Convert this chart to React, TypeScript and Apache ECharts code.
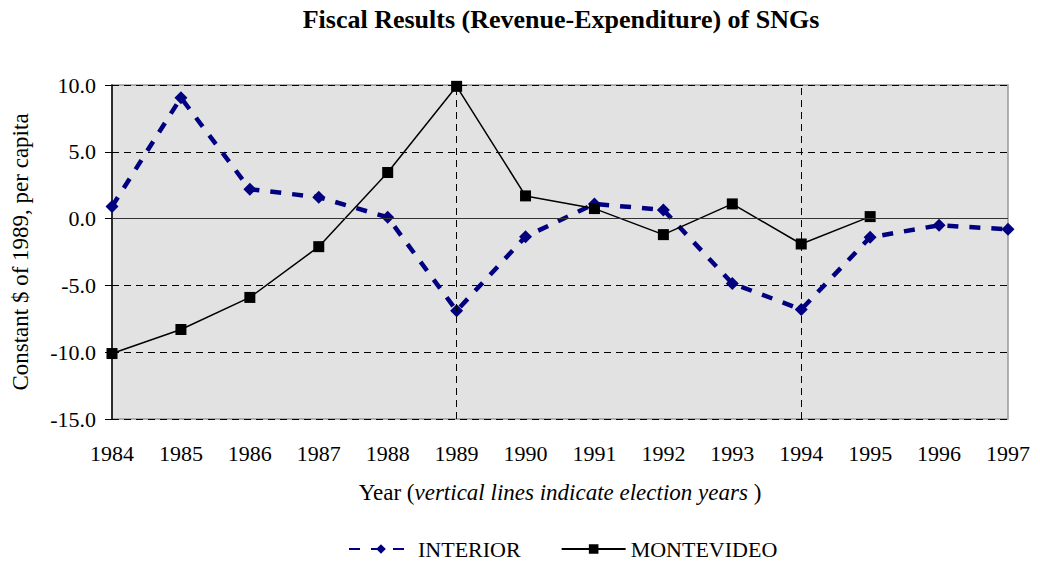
import React, { useEffect, useRef } from "react";
import * as echarts from "echarts";

const years = ["1984","1985","1986","1987","1988","1989","1990","1991","1992","1993","1994","1995","1996","1997"];
const interior = [0.9, 9.05, 2.2, 1.6, 0.1, -6.9, -1.35, 1.1, 0.65, -4.85, -6.8, -1.4, -0.5, -0.8];
const montevideo = [-10.1, -8.3, -5.9, -2.1, 3.45, 9.9, 1.7, 0.75, -1.2, 1.1, -1.9, 0.15, null, null];
const electionYears = ["1989", "1994"];

const FONT = "Liberation Serif";

export default function App() {
  const ref = useRef<HTMLDivElement>(null);
  useEffect(() => {
    if (!ref.current) return;
    const chart = echarts.init(ref.current, undefined, { renderer: "svg" });
    chart.setOption({
      animation: false,
      title: {
        text: "Fiscal Results (Revenue-Expenditure) of SNGs",
        left: 556,
        textAlign: "center",
        top: 1,
        textStyle: { fontFamily: FONT, fontSize: 26, fontWeight: "bold", color: "#000" },
      },
      legend: {
        bottom: 3,
        left: 343,
        itemWidth: 64,
        itemHeight: 12,
        itemGap: 40,
        textStyle: { fontFamily: FONT, fontSize: 22, color: "#000" },
        data: ["INTERIOR", "MONTEVIDEO"],
      },
      grid: {
        left: 112,
        right: 32,
        top: 85,
        bottom: 149,
        show: true,
        backgroundColor: "#e2e2e2",
        borderColor: "#999",
        borderWidth: 1.5,
      },
      xAxis: {
        type: "category",
        data: years,
        boundaryGap: false,
        axisLine: { show: false },
        axisTick: { show: false },
        axisLabel: { fontFamily: FONT, fontSize: 22, color: "#000", margin: 23, interval: 0 },
        splitLine: { show: false },
        name: "Year ({i|vertical lines indicate election years })",
        nameLocation: "middle",
        nameGap: 62,
        nameTextStyle: {
          fontFamily: FONT,
          fontSize: 23,
          color: "#000",
          rich: { i: { fontFamily: FONT, fontSize: 23, fontStyle: "italic", color: "#000" } },
        },
      },
      yAxis: {
        type: "value",
        min: -15,
        max: 10,
        interval: 5,
        axisLine: { show: true, lineStyle: { color: "#000", width: 1.5 } },
        axisTick: { show: true, length: 7, lineStyle: { color: "#000" } },
        axisLabel: {
          fontFamily: FONT,
          fontSize: 22,
          color: "#000",
          margin: 16,
          formatter: (v: number) => v.toFixed(1),
        },
        splitLine: { show: true, lineStyle: { color: "#000", type: [7, 5], width: 1 } },
        name: "Constant $ of 1989, per capita",
        nameLocation: "middle",
        nameGap: 80,
        nameTextStyle: { fontFamily: FONT, fontSize: 23, color: "#000" },
      },
      series: [
        {
          name: "INTERIOR",
          type: "line",
          data: interior,
          symbol: "diamond",
          symbolSize: 13,
          itemStyle: { color: "#000080" },
          lineStyle: { color: "#000080", width: 4.5, type: [11, 11] },
          z: 3,
        },
        {
          name: "MONTEVIDEO",
          type: "line",
          data: montevideo,
          symbol: "rect",
          symbolSize: 11,
          itemStyle: { color: "#000" },
          lineStyle: { color: "#000", width: 1.5 },
          connectNulls: false,
          z: 4,
          markLine: {
            silent: true,
            symbol: "none",
            label: { show: false },
            data: [
              { yAxis: 0, lineStyle: { color: "#333", type: "solid", width: 1.2 } },
              ...electionYears.map((y) => ({
                xAxis: y,
                lineStyle: { color: "#000", type: [7, 5], width: 1 },
              })),
            ],
          },
        },
      ],
    });
    return () => chart.dispose();
  }, []);
  return <div ref={ref} style={{ width: 1040, height: 568, position: "absolute", left: 0, top: 0 }} />;
}
